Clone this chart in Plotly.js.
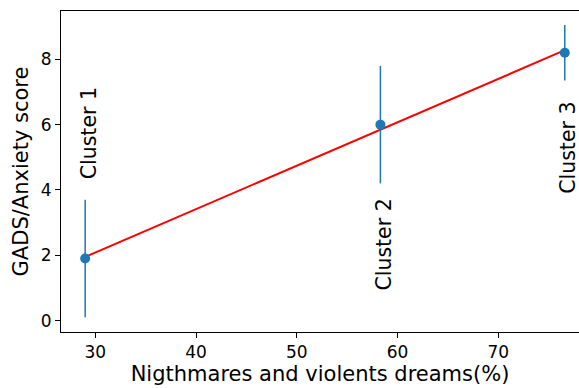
<!DOCTYPE html>
<html>
<head>
<meta charset="utf-8">
<script src="https://cdn.plot.ly/plotly-3.0.1.min.js"></script>
<style>html,body{margin:0;padding:0;background:#fff;}#chart{width:579px;height:388px;}</style>
</head>
<body>
<div id="chart"></div>
<script>
// Data
const clusterNames = ["Cluster 1", "Cluster 2", "Cluster 3"];
const nightmaresPct = [29.0, 58.3, 76.6];
const anxietyScore = [1.9, 6.0, 8.2];
const anxietyErr = [1.8, 1.8, 0.85];
const fitX = [29.0, 76.6];
const fitY = [1.95, 8.28];
const xTicks = [30, 40, 50, 60, 70];
const yTicks = [0, 2, 4, 6, 8];

const FONT = "DejaVu Sans, Liberation Sans, sans-serif";

const traces = [
  {
    type: "scatter", mode: "lines", x: fitX, y: fitY,
    line: {color: "#ff0000", width: 2}, hoverinfo: "skip", showlegend: false
  },
  {
    type: "scatter", mode: "markers", x: nightmaresPct, y: anxietyScore,
    marker: {color: "#1f77b4", size: 10},
    error_y: {type: "data", array: anxietyErr, visible: true, color: "#1f77b4", thickness: 1.5, width: 0},
    showlegend: false
  }
];

const labelOffsetsY = [3.84, -3.66, -2.9];
const labelOffsetsX = [0.4, 0.4, 0.25];
const annotations = clusterNames.map((name, i) => ({
  x: nightmaresPct[i] + labelOffsetsX[i],
  y: anxietyScore[i] + labelOffsetsY[i],
  xref: "x", yref: "y",
  text: name, showarrow: false, textangle: -90,
  xanchor: "center", yanchor: "middle",
  font: {family: FONT, size: 20.5, color: "#000"}
}));

const layout = {
  width: 579, height: 388,
  margin: {l: 61, r: 0, t: 11, b: 56},
  paper_bgcolor: "#fff", plot_bgcolor: "#fff",
  font: {family: FONT, color: "#000"},
  showlegend: false,
  xaxis: {
    range: [26.6, 78.01], tickvals: xTicks, ticktext: xTicks.map(String),
    showgrid: false, zeroline: false,
    showline: true, linecolor: "#000", linewidth: 1, mirror: true,
    ticks: "outside", ticklen: 5, tickwidth: 1, tickcolor: "#000",
    tickfont: {family: FONT, size: 17, color: "#000"},
    title: {text: "Nigthmares and violents dreams(%)", font: {family: FONT, size: 21, color: "#000"}, standoff: 3},
    automargin: false
  },
  yaxis: {
    range: [-0.35, 9.48], tickvals: yTicks, ticktext: yTicks.map(String),
    showgrid: false, zeroline: false,
    showline: true, linecolor: "#000", linewidth: 1, mirror: false,
    ticks: "outside", ticklen: 5, tickwidth: 1, tickcolor: "#000",
    tickfont: {family: FONT, size: 17, color: "#000"},
    title: {text: "GADS/Anxiety score", font: {family: FONT, size: 21, color: "#000"}, standoff: 6},
    automargin: false
  },
  annotations: annotations
};

Plotly.newPlot("chart", traces, layout, {staticPlot: true, displayModeBar: false});
</script>
</body>
</html>
